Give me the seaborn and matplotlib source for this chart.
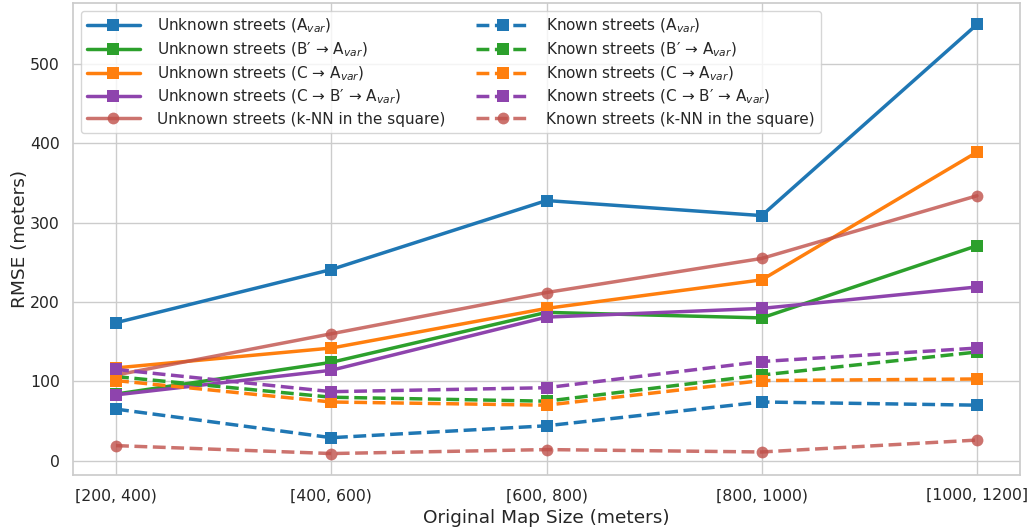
import numpy as np
import pandas as pd
import matplotlib
matplotlib.use("Agg")
import matplotlib.pyplot as plt
import seaborn as sns

sizes = ["[200, 400)", "[400, 600)", "[600, 800)", "[800, 1000)", "[1000, 1200]"]

unknown_avar = [174, 241, 328, 309, 550]
unknown_b_avar = [84, 124, 187, 180, 271]
unknown_c_avar = [117, 142, 192, 228, 389]
unknown_c_b_avar = [83, 114, 181, 192, 219]
unknown_knn = [108, 160, 212, 255, 334]

known_avar = [65, 29, 44, 74, 70]
known_b_avar = [106, 80, 75, 108, 137]
known_c_avar = [101, 74, 70, 101, 103]
known_c_b_avar = [115, 87, 92, 125, 142]
known_knn = [19, 9, 14, 11, 26]

sns.set_theme(style="whitegrid")
plt.rcParams["axes.edgecolor"] = "#cccccc"

blue, green, orange, purple, red = "#1f77b4", "#2ca02c", "#ff7f0e", "#8e44ad", "#c0504a"

series = [
    ("Unknown streets (A$_{var}$)", unknown_avar, blue, "-", "s", 1.0),
    ("Unknown streets (B\u2032 \u2192 A$_{var}$)", unknown_b_avar, green, "-", "s", 1.0),
    ("Unknown streets (C \u2192 A$_{var}$)", unknown_c_avar, orange, "-", "s", 1.0),
    ("Unknown streets (C \u2192 B\u2032 \u2192 A$_{var}$)", unknown_c_b_avar, purple, "-", "s", 1.0),
    ("Unknown streets (k-NN in the square)", unknown_knn, red, "-", "o", 0.8),
    ("Known streets (A$_{var}$)", known_avar, blue, "--", "s", 1.0),
    ("Known streets (B\u2032 \u2192 A$_{var}$)", known_b_avar, green, "--", "s", 1.0),
    ("Known streets (C \u2192 A$_{var}$)", known_c_avar, orange, "--", "s", 1.0),
    ("Known streets (C \u2192 B\u2032 \u2192 A$_{var}$)", known_c_b_avar, purple, "--", "s", 1.0),
    ("Known streets (k-NN in the square)", known_knn, red, "--", "o", 0.8),
]

fig, ax = plt.subplots(figsize=(10.3, 5.31), dpi=100)
x = np.arange(len(sizes))
for label, vals, color, ls, marker, alpha in series:
    df = pd.DataFrame({"x": x, "y": vals})
    sns.lineplot(data=df, x="x", y="y", ax=ax, color=color, linestyle=ls,
                 marker=marker, markersize=8.5, linewidth=2.5, alpha=alpha,
                 markeredgewidth=0, label=label)

ax.set_xticks(x)
ax.set_xticklabels(sizes, fontsize=11.3)
ax.tick_params(axis="y", labelsize=11.3)
ax.set_xlabel("Original Map Size (meters)", fontsize=13.3)
ax.set_ylabel("RMSE (meters)", fontsize=13.3, labelpad=1)
ax.legend(ncol=2, loc="upper left", fontsize=11, handlelength=3.5,
          handletextpad=1.1, columnspacing=2.0, labelspacing=0.35,
          borderaxespad=0.5)

fig.subplots_adjust(left=73 / 1030, right=1020 / 1030, top=1 - 3 / 531, bottom=1 - 475 / 531)
plt.savefig("out.png", dpi=100)
